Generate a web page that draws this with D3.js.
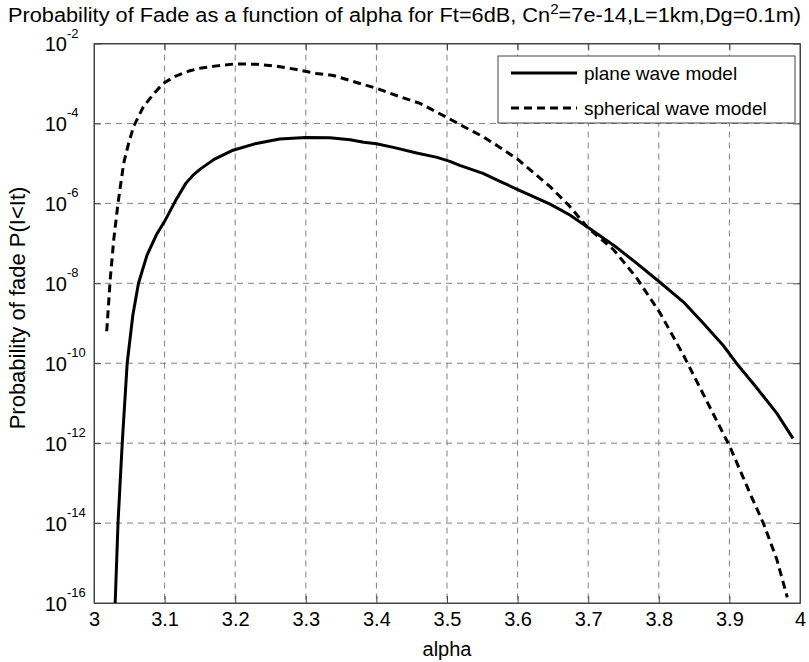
<!DOCTYPE html>
<html>
<head>
<meta charset="utf-8">
<script src="https://cdn.jsdelivr.net/npm/d3@7"></script>
<style>
  body { margin: 0; background: #fff; }
  text { font-family: "Liberation Sans", Arial, sans-serif; fill: #000; }
</style>
</head>
<body>
<div id="graph"></div>
<script>
// alpha values and log10 of the fade probability
let alphaPlane = [3.030, 3.034, 3.040, 3.047, 3.055, 3.063, 3.075, 3.088, 3.100, 3.115,
                  3.130, 3.140, 3.150, 3.170, 3.197, 3.230, 3.263, 3.300, 3.334, 3.363,
                  3.382, 3.400, 3.424, 3.457, 3.486, 3.504, 3.518, 3.551, 3.575, 3.601,
                  3.646, 3.674, 3.703, 3.740, 3.768, 3.802, 3.835, 3.863, 3.891, 3.910,
                  3.938, 3.967, 3.990];
let log10Plane = [-16.0, -14.0, -12.0, -10.0, -8.8, -8.0, -7.3, -6.8, -6.45, -5.95,
                  -5.5, -5.3, -5.15, -4.90, -4.67, -4.50, -4.39, -4.35, -4.36, -4.41,
                  -4.47, -4.51, -4.60, -4.74, -4.85, -4.95, -5.05, -5.25, -5.45, -5.66,
                  -6.02, -6.29, -6.64, -7.10, -7.49, -7.98, -8.47, -9.0, -9.55, -10.0,
                  -10.6, -11.25, -11.88];

let alphaSpherical = [3.018, 3.023, 3.028, 3.034, 3.042, 3.049, 3.056, 3.070, 3.085, 3.098,
                      3.115, 3.136, 3.150, 3.174, 3.200, 3.230, 3.259, 3.287, 3.315, 3.339,
                      3.367, 3.400, 3.433, 3.462, 3.502, 3.528, 3.551, 3.575, 3.601, 3.646,
                      3.674, 3.700, 3.736, 3.768, 3.802, 3.835, 3.868, 3.901, 3.929, 3.948,
                      3.967, 3.982];
let log10Spherical = [-9.2, -7.9, -6.9, -6.0, -5.0, -4.5, -4.08, -3.58, -3.25, -3.0,
                      -2.82, -2.68, -2.62, -2.56, -2.51, -2.52, -2.57, -2.65, -2.75, -2.80,
                      -2.95, -3.12, -3.33, -3.50, -3.87, -4.12, -4.33, -4.60, -4.91, -5.58,
                      -6.08, -6.62, -7.16, -7.85, -8.75, -9.80, -10.95, -12.10, -13.25, -14.0,
                      -14.9, -15.86];

let xTicks = [3, 3.1, 3.2, 3.3, 3.4, 3.5, 3.6, 3.7, 3.8, 3.9, 4];
let yTickExponents = [-2, -4, -6, -8, -10, -12, -14, -16];
let legendLabels = ["plane wave model", "spherical wave model"];

let width = 809;
let height = 662;
let mLeft = 94, mRight = 800, mTop = 43.5, mBottom = 603;

let xscale = d3.scaleLinear().domain([3, 4]).range([mLeft, mRight]);
let yscale = d3.scaleLog().domain([1e-16, 1e-2]).range([mBottom, mTop]);

let svg = d3.select("#graph")
            .append("svg")
              .attr("width", width)
              .attr("height", height);

// grid lines
let grid = svg.append("g");
grid.selectAll("line.vg")
    .data(xTicks.slice(1, -1))
    .enter().append("line")
      .attr("x1", d => xscale(d)).attr("x2", d => xscale(d))
      .attr("y1", mTop).attr("y2", mBottom)
      .attr("stroke", "#808080").attr("stroke-width", 1)
      .attr("stroke-dasharray", "6,5");
grid.selectAll("line.hg")
    .data(yTickExponents.slice(1, -1))
    .enter().append("line")
      .attr("x1", mLeft).attr("x2", mRight)
      .attr("y1", d => yscale(Math.pow(10, d))).attr("y2", d => yscale(Math.pow(10, d)))
      .attr("stroke", "#808080").attr("stroke-width", 1)
      .attr("stroke-dasharray", "6,5");

// axes with inward ticks on all four sides
let x_axis = d3.axisBottom(xscale).tickValues(xTicks).tickSizeInner(-7).tickSizeOuter(0)
               .tickPadding(9).tickFormat(d3.format("~g"));
let x_top = d3.axisTop(xscale).tickValues(xTicks).tickSizeInner(-7).tickSizeOuter(0).tickFormat("");
let yTickValues = yTickExponents.map(e => Math.pow(10, e));
let y_axis = d3.axisLeft(yscale).tickValues(yTickValues).tickSizeInner(-7).tickSizeOuter(0).tickFormat("");
let y_right = d3.axisRight(yscale).tickValues(yTickValues).tickSizeInner(-7).tickSizeOuter(0).tickFormat("");

let xg = svg.append("g").attr("transform", "translate(0," + mBottom + ")").call(x_axis);
xg.selectAll("text").style("font-size", "20px").attr("fill", "#000");
svg.append("g").attr("transform", "translate(0," + mTop + ")").call(x_top);
svg.append("g").attr("transform", "translate(" + mLeft + ",0)").call(y_axis);
svg.append("g").attr("transform", "translate(" + mRight + ",0)").call(y_right);

svg.selectAll(".domain").attr("stroke", "#444");
svg.selectAll(".tick line").attr("stroke", "#444");

// frame
svg.append("rect")
   .attr("x", mLeft).attr("y", mTop)
   .attr("width", mRight - mLeft).attr("height", mBottom - mTop)
   .attr("fill", "none").attr("stroke", "#444").attr("stroke-width", 1);

// y tick labels as 10^n
let ylab = svg.append("g");
yTickExponents.forEach(function (e) {
  let yy = yscale(Math.pow(10, e));
  ylab.append("text")
      .attr("x", 67).attr("y", yy + 7.5)
      .attr("text-anchor", "end")
      .style("font-size", "20px")
      .text("10");
  ylab.append("text")
      .attr("x", 67).attr("y", yy - 6)
      .style("font-size", "13px")
      .text(String(e));
});

// curves
let line = d3.line()
             .x(d => xscale(d[0]))
             .y(d => yscale(Math.pow(10, d[1])));

svg.append("path")
   .datum(d3.zip(alphaPlane, log10Plane))
   .attr("d", line)
   .attr("fill", "none").attr("stroke", "#000").attr("stroke-width", 3)
   .attr("stroke-linejoin", "round");

svg.append("path")
   .datum(d3.zip(alphaSpherical, log10Spherical))
   .attr("d", line)
   .attr("fill", "none").attr("stroke", "#000").attr("stroke-width", 3)
   .attr("stroke-dasharray", "8,5");

// legend
let legend = svg.append("g");
legend.append("rect")
      .attr("x", 498).attr("y", 56).attr("width", 297).attr("height", 67)
      .attr("fill", "#fff").attr("stroke", "#444").attr("stroke-width", 1);
legendLabels.forEach(function (lab, i) {
  let ly = 73 + i * 35;
  legend.append("line")
        .attr("x1", 511).attr("x2", 577).attr("y1", ly).attr("y2", ly)
        .attr("stroke", "#000").attr("stroke-width", 3)
        .attr("stroke-dasharray", i === 1 ? "8,5" : null);
  legend.append("text")
        .attr("x", 584).attr("y", ly + 7)
        .style("font-size", "19px")
        .text(lab);
});

// title
let title = svg.append("text")
               .attr("x", 8).attr("y", 22)
               .attr("textLength", 793).attr("lengthAdjust", "spacingAndGlyphs")
               .style("font-size", "20px");
title.append("tspan").text("Probability of Fade as a function of alpha for Ft=6dB, Cn");
title.append("tspan").attr("dy", -8).style("font-size", "14px").text("2");
title.append("tspan").attr("dy", 8).text("=7e-14,L=1km,Dg=0.1m)");

// axis labels
svg.append("text")
   .attr("x", (mLeft + mRight) / 2).attr("y", 656)
   .attr("text-anchor", "middle")
   .style("font-size", "20px")
   .text("alpha");

svg.append("text")
   .attr("transform", "translate(25,308) rotate(-90)")
   .attr("text-anchor", "middle")
   .style("font-size", "22px")
   .text("Probability of fade P(I<It)");
</script>
</body>
</html>
